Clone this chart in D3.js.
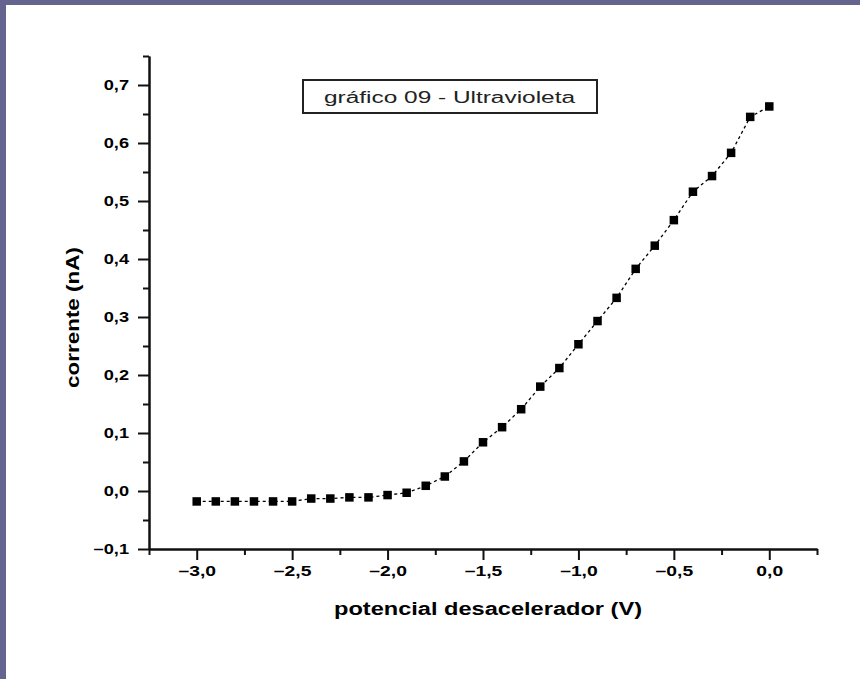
<!DOCTYPE html>
<html>
<head>
<meta charset="utf-8">
<script src="https://cdn.jsdelivr.net/npm/d3@7"></script>
<style>
  html, body { margin: 0; padding: 0; background: #64648f; }
  svg { display: block; }
</style>
</head>
<body>
<svg id="chart" width="860" height="679"></svg>
<script>
// Retarding potential (V) and measured current (nA)
const potential = [-3.0, -2.9, -2.8, -2.7, -2.6, -2.5, -2.4, -2.3, -2.2, -2.1,
                   -2.0, -1.9, -1.8, -1.7, -1.6, -1.5, -1.4, -1.3, -1.2, -1.1,
                   -1.0, -0.9, -0.8, -0.7, -0.6, -0.5, -0.4, -0.3, -0.2, -0.1, 0.0];
const current = [-0.018, -0.018, -0.018, -0.018, -0.018, -0.018, -0.013, -0.013, -0.011, -0.011,
                 -0.007, -0.003, 0.009, 0.025, 0.051, 0.084, 0.110, 0.141, 0.180, 0.212,
                 0.253, 0.293, 0.333, 0.383, 0.423, 0.467, 0.516, 0.543, 0.583, 0.645, 0.663];
const xTicks = [-3.0, -2.5, -2.0, -1.5, -1.0, -0.5, 0.0];
const xMinorTicks = [-3.25, -2.75, -2.25, -1.75, -1.25, -0.75, -0.25, 0.25];
const yTicks = [-0.1, 0.0, 0.1, 0.2, 0.3, 0.4, 0.5, 0.6, 0.7];
const yMinorTicks = [-0.05, 0.05, 0.15, 0.25, 0.35, 0.45, 0.55, 0.65, 0.75];
const titleText = "gráfico 09 - Ultravioleta";
const xLabel = "potencial desacelerador (V)";
const yLabel = "corrente (nA)";

const svg = d3.select("#chart");

// page sheet
svg.append("rect").attr("x", 6).attr("y", 5).attr("width", 854).attr("height", 674).attr("fill", "#ffffff");

const plotLeft = 149, plotRight = 817, plotTop = 56, plotBottom = 549;
const x = d3.scaleLinear().domain([-3.25, 0.25]).range([plotLeft, plotRight]);
const y = d3.scaleLinear().domain([-0.1, 0.75]).range([plotBottom, plotTop]);

const locale = d3.formatLocale({ decimal: ",", thousands: ".", grouping: [3], currency: ["", ""], minus: "\u2013" });
const fmt = locale.format(".1f");

const fontFam = "'Liberation Sans', Arial, sans-serif";

// widen glyphs horizontally for the chunky label face
function widen(sel, factor) {
  sel.each(function () {
    const w = this.getComputedTextLength();
    d3.select(this).attr("textLength", w * factor).attr("lengthAdjust", "spacingAndGlyphs");
  });
}

// x axis
const gx = svg.append("g").attr("transform", `translate(0,${plotBottom})`)
  .call(d3.axisBottom(x).tickValues(xTicks).tickFormat(fmt).tickSize(11).tickPadding(6).tickSizeOuter(0));
const gxm = svg.append("g").attr("transform", `translate(0,${plotBottom})`)
  .call(d3.axisBottom(x).tickValues(xMinorTicks).tickFormat("").tickSize(6).tickSizeOuter(0));

// y axis
const gy = svg.append("g").attr("transform", `translate(${plotLeft},0)`)
  .call(d3.axisLeft(y).tickValues(yTicks).tickFormat(fmt).tickSize(11).tickPadding(9).tickSizeOuter(0));
const gym = svg.append("g").attr("transform", `translate(${plotLeft},0)`)
  .call(d3.axisLeft(y).tickValues(yMinorTicks).tickFormat("").tickSize(6).tickSizeOuter(0));

[gx, gxm, gy, gym].forEach(g => {
  g.selectAll("path.domain").attr("stroke", "#111").attr("stroke-width", 2);
  g.selectAll(".tick line").attr("stroke", "#111").attr("stroke-width", 2);
  g.selectAll(".tick text")
    .attr("fill", "#000")
    .style("font-family", fontFam)
    .style("font-weight", "bold")
    .style("font-size", "14px");
});
widen(gx.selectAll(".tick text"), 1.38);
widen(gy.selectAll(".tick text"), 1.3);

// dashed connecting line
const pts = potential.map((p, i) => [p, current[i]]);
svg.append("path")
  .datum(pts)
  .attr("fill", "none")
  .attr("stroke", "#000")
  .attr("stroke-width", 1.3)
  .attr("stroke-dasharray", "3,3")
  .attr("d", d3.line().x(d => x(d[0])).y(d => y(d[1])));

// square markers
const ms = 8.5;
svg.append("g").selectAll("rect")
  .data(pts)
  .join("rect")
  .attr("x", d => x(d[0]) - ms / 2)
  .attr("y", d => y(d[1]) - ms / 2)
  .attr("width", ms)
  .attr("height", ms)
  .attr("fill", "#000");

// title box
svg.append("rect")
  .attr("x", 303).attr("y", 80).attr("width", 294).attr("height", 33)
  .attr("fill", "#fff").attr("stroke", "#222").attr("stroke-width", 2);
svg.append("text")
  .attr("x", 324).attr("y", 103)
  .attr("textLength", 251).attr("lengthAdjust", "spacingAndGlyphs")
  .style("font-family", fontFam)
  .style("font-size", "16px")
  .attr("fill", "#222")
  .text(titleText);

// axis titles
svg.append("text")
  .attr("x", 334).attr("y", 615)
  .attr("textLength", 308).attr("lengthAdjust", "spacingAndGlyphs")
  .style("font-family", fontFam)
  .style("font-weight", "bold")
  .style("font-size", "18px")
  .attr("fill", "#000")
  .text(xLabel);

svg.append("text")
  .attr("transform", "translate(79,388) rotate(-90)")
  .attr("textLength", 141).attr("lengthAdjust", "spacingAndGlyphs")
  .style("font-family", fontFam)
  .style("font-weight", "bold")
  .style("font-size", "18px")
  .attr("fill", "#000")
  .text(yLabel);
</script>
</body>
</html>
